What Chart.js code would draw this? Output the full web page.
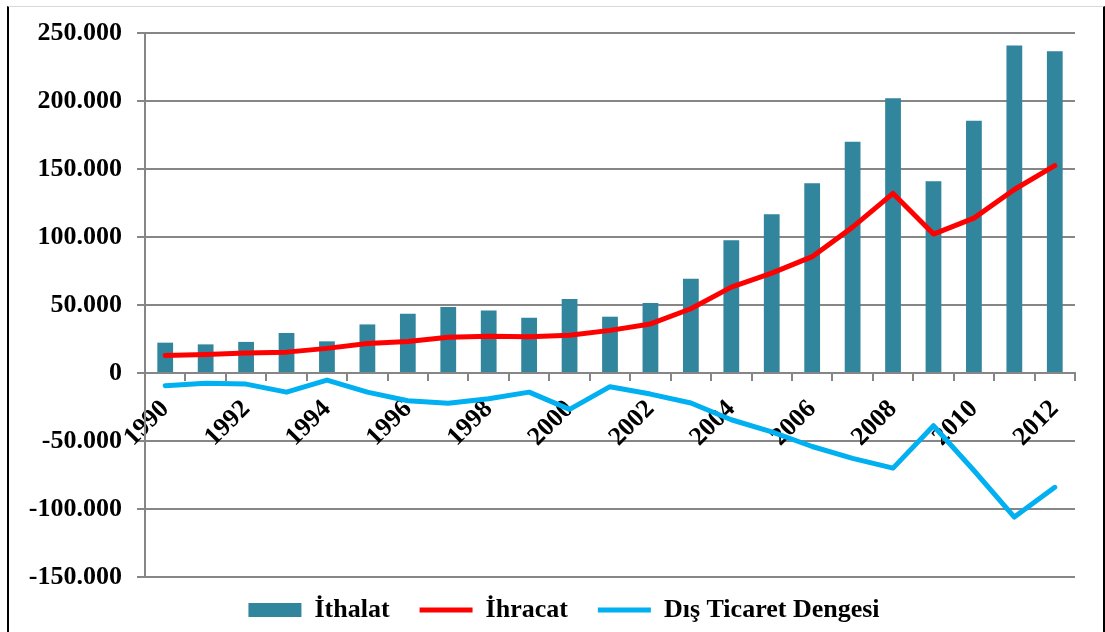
<!DOCTYPE html>
<html>
<head>
<meta charset="utf-8">
<script src="https://cdn.jsdelivr.net/npm/chart.js@4/dist/chart.umd.min.js"></script>
<style>
  html, body { margin: 0; padding: 0; background: #ffffff; }
  #wrap { position: relative; width: 1105px; height: 632px; overflow: hidden; }
  #frame { position: absolute; left: 7px; top: 6px; width: 1094px; height: 640px;
           border-left: 2px solid #000; border-right: 2px solid #000; border-top: 1px solid #d9d9d9; }
  canvas { position: absolute; left: 0; top: 0; }
</style>
</head>
<body>
<div id="wrap">
  <div id="frame"></div>
  <canvas id="c" width="1105" height="632"></canvas>
</div>
<script>
const years = ['1990','1991','1992','1993','1994','1995','1996','1997','1998','1999','2000','2001','2002','2003','2004','2005','2006','2007','2008','2009','2010','2011','2012'];
const ithalat = [22302, 21047, 22871, 29428, 23270, 35709, 43627, 48559, 45921, 40671, 54503, 41399, 51554, 69340, 97540, 116774, 139576, 170063, 201964, 140928, 185544, 240842, 236545];
const ihracat = [12959, 13594, 14715, 15345, 18106, 21637, 23225, 26261, 26974, 26587, 27775, 31334, 36059, 47253, 63167, 73476, 85535, 107272, 132027, 102143, 113883, 134907, 152462];
const denge = [-9343, -7453, -8157, -14083, -5164, -14072, -20402, -22298, -18947, -14084, -26728, -10065, -15495, -22087, -34373, -43298, -54041, -62791, -69936, -38785, -71661, -105935, -84083];
const seriesNames = ['İthalat', 'İhracat', 'Dış Ticaret Dengesi'];
const yMin = -150000, yMax = 250000, yStep = 50000;

function fmt(v) {
  const neg = v < 0;
  let s = Math.abs(Math.round(v)).toString();
  s = s.replace(/\B(?=(\d{3})+(?!\d))/g, '.');
  return (neg ? '-' : '') + s;
}

const FONT = { family: '"Liberation Serif", "Times New Roman", serif', size: 26, weight: 'bold' };
const GRID = '#868686';

// shift the legend to sit where it sits in the reference
const legendShift = {
  id: 'legendShift',
  afterLayout(chart) {
    const lg = chart.legend;
    if (!lg) return;
    const dx = 13, dy = -10;
    lg.left += dx; lg.right += dx;
    lg.top += dy; lg.bottom += dy;
  }
};

new Chart(document.getElementById('c'), {
  type: 'bar',
  data: {
    labels: years,
    datasets: [
      { type: 'bar', label: seriesNames[0], data: ithalat, backgroundColor: '#31859C', borderWidth: 0,
        barPercentage: 0.39, categoryPercentage: 1, order: 2, pointStyle: 'rect' },
      { type: 'line', label: seriesNames[1], data: ihracat, borderColor: '#FF0000', backgroundColor: '#FF0000',
        borderWidth: 5, pointRadius: 0, tension: 0, borderCapStyle: 'round', borderJoinStyle: 'round',
        order: 0, pointStyle: 'line', fill: false },
      { type: 'line', label: seriesNames[2], data: denge, borderColor: '#00B0F0', backgroundColor: '#00B0F0',
        borderWidth: 5, pointRadius: 0, tension: 0, borderCapStyle: 'round', borderJoinStyle: 'round',
        order: 1, pointStyle: 'line', fill: false }
    ]
  },
  plugins: [legendShift],
  options: {
    responsive: false,
    animation: false,
    devicePixelRatio: 1,
    layout: { padding: { left: 27, right: 30, top: 33, bottom: -11 } },
    plugins: {
      tooltip: { enabled: false },
      legend: {
        position: 'bottom',
        labels: {
          usePointStyle: true,
          pointStyleWidth: 53,
          boxHeight: 14,
          padding: 30,
          color: '#000',
          font: FONT,
          sort: (a, b) => a.datasetIndex - b.datasetIndex
        }
      }
    },
    scales: {
      x: {
        position: { y: 0 },
        offset: true,
        grid: { offset: true, drawOnChartArea: false, drawTicks: true, tickLength: 7, color: GRID, lineWidth: 2 },
        border: { display: true, color: GRID, width: 2 },
        ticks: {
          autoSkip: false, minRotation: 45, maxRotation: 45, padding: 14, color: '#000', font: FONT,
          callback: function (value, index) { return index % 2 === 0 ? this.getLabelForValue(value) : ''; }
        }
      },
      y: {
        min: yMin, max: yMax,
        afterFit: (s) => { s.width = 118; },
        grid: { color: GRID, lineWidth: 2, drawTicks: true, tickLength: 8 },
        border: { display: true, color: GRID, width: 2 },
        ticks: { stepSize: yStep, padding: 15, color: '#000', font: FONT, callback: (v) => fmt(v) }
      }
    }
  }
});
</script>
</body>
</html>
